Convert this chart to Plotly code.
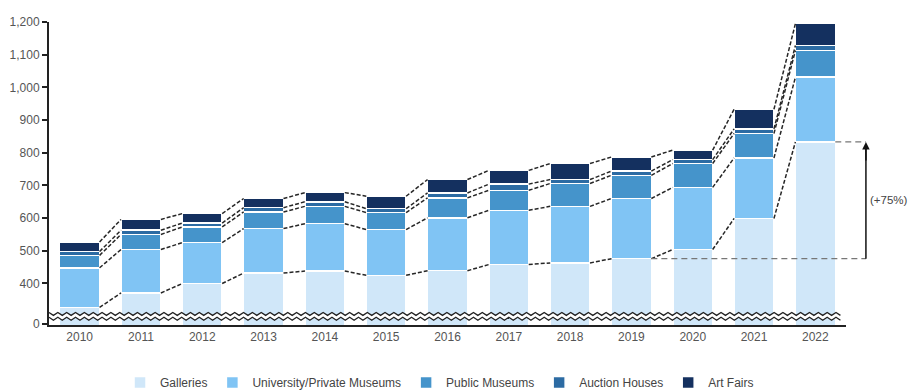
import numpy as np
import plotly.graph_objects as go

years = [2010, 2011, 2012, 2013, 2014, 2015, 2016, 2017, 2018, 2019, 2020, 2021, 2022]
galleries = [327, 371, 400, 432, 438, 425, 439, 458, 463, 476, 504, 599, 833]
university = [121, 133, 125, 136, 145, 140, 162, 166, 173, 184, 190, 185, 198]
public_museums = [38, 46, 48, 51, 53, 52, 61, 61, 70, 71, 73, 75, 82]
auction_houses = [12, 13, 12, 13, 14, 12, 15, 19, 12, 13, 12, 14, 15]
art_fairs = [29, 33, 29, 28, 28, 38, 41, 42, 49, 43, 29, 60, 67]

series_names = ["Galleries", "University/Private Museums", "Public Museums", "Auction Houses", "Art Fairs"]
series_vals = [galleries, university, public_museums, auction_houses, art_fairs]
colors = ["#d0e7f9", "#80c4f4", "#4594cb", "#2c6ba3", "#14305f"]

ytick_vals = [400, 500, 600, 700, 800, 900, 1000, 1100, 1200]
ytick_text = ["400", "500", "600", "700", "800", "900", "1,000", "1,100", "1,200"]

BW = 0.65
Y0, Y1 = 273, 1200
X0, X1 = 2009.5, 2022.5

fig = go.Figure()
for name, vals, col in zip(series_names, series_vals, colors):
    fig.add_trace(go.Bar(x=years, y=vals, name=name, width=BW,
                         marker=dict(color=col, line=dict(color="white", width=1.5))))

# dashed connectors between consecutive bars at each cumulative boundary
cum = np.cumsum(np.array(series_vals), axis=0)
for level in cum:
    xs, ys = [], []
    for i in range(len(years) - 1):
        xs += [years[i] + BW / 2, years[i + 1] - BW / 2, None]
        ys += [level[i], level[i + 1], None]
    fig.add_trace(go.Scatter(x=xs, y=ys, mode="lines", showlegend=False, hoverinfo="skip",
                             line=dict(color="#262626", width=1.5, dash="4px,2px")))

# axis break zigzag (decorative)
def px(xd):
    return (xd - X0) / (X1 - X0)

xs_w = np.linspace(0, 0.993, 180)
def wave(yc):
    return yc + 4.5 * np.where(np.arange(len(xs_w)) % 2 == 0, 1, -1)
up = wave(307)
lo = wave(292)
poly = "M " + " L ".join(f"{x},{y}" for x, y in zip(xs_w, up)) + " L " + \
       " L ".join(f"{x},{y}" for x, y in zip(xs_w[::-1], lo[::-1])) + " Z"
fig.add_shape(type="path", path=poly, xref="paper", yref="y", fillcolor="white",
              line=dict(width=0))
for w in (up, lo):
    p = "M " + " L ".join(f"{x},{y}" for x, y in zip(xs_w, w))
    fig.add_shape(type="path", path=p, xref="paper", yref="y", line=dict(color="#222", width=1.3))

# +75% annotation
g19 = galleries[years.index(2019)]
g22 = galleries[years.index(2022)]
xa = 1.025
fig.add_shape(type="line", xref="paper", yref="y", x0=px(2019 + BW / 2), x1=xa, y0=g19, y1=g19,
              line=dict(color="#777", width=1.3, dash="6px,4px"))
fig.add_shape(type="line", xref="paper", yref="y", x0=px(2022 + BW / 2), x1=xa, y0=g22, y1=g22,
              line=dict(color="#777", width=1.3, dash="6px,4px"))
fig.add_shape(type="line", xref="paper", yref="y", x0=xa, x1=xa, y0=g19, y1=g22 - 8,
              line=dict(color="#111", width=1.5))
fig.add_annotation(xref="paper", yref="y", x=xa, y=g22, ax=0, ay=20, text="", showarrow=True,
                   arrowhead=2, arrowsize=1, arrowwidth=1.5, arrowcolor="#111", standoff=0)
fig.add_annotation(xref="paper", yref="y", x=1.027, y=(g19 + g22) / 2,
                   text=f"(+{round((g22 / g19 - 1) * 100)}%)", showarrow=False, xanchor="left",
                   font=dict(size=11.5, color="#444"))

fig.update_layout(
    width=910, height=392, barmode="stack", bargap=0.35,
    margin=dict(l=49, r=64, t=22, b=67, autoexpand=False),
    plot_bgcolor="white", paper_bgcolor="white",
    font=dict(family="Liberation Sans, Arial, sans-serif", size=12, color="#555"),
    xaxis=dict(range=[X0, X1], tickvals=years, ticktext=[str(y) for y in years],
               showline=True, linecolor="#222", linewidth=2, ticks="", showgrid=False,
               tickfont=dict(size=12, color="#555")),
    yaxis=dict(range=[Y0, Y1], tickvals=[276] + ytick_vals, ticktext=["0"] + ytick_text,
               showline=True, linecolor="#222", linewidth=2, ticks="outside", ticklen=5,
               tickcolor="#222", tickwidth=1.5, showgrid=False, zeroline=False,
               tickfont=dict(size=12, color="#555")),
    legend=dict(orientation="h", x=0.49, xanchor="center", y=-0.19, yanchor="middle",
                traceorder="normal", font=dict(size=12, color="#444"), itemwidth=30),
)

fig.write_html("out.html")
